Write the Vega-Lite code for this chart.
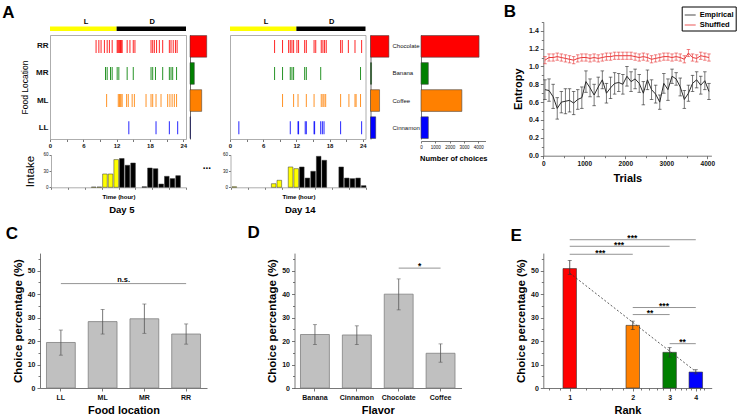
{
  "$schema": "https://vega.github.io/schema/vega-lite/v6.json",
  "width": 737,
  "height": 417,
  "autosize": {"type": "none"},
  "padding": 0,
  "background": "#ffffff",
  "config": {
    "font": "Liberation Sans",
    "view": {"stroke": null},
    "axis": {"grid": false, "domainColor": "#555555", "tickColor": "#555555", "labelColor": "#111111", "titleColor": "#000000", "domainWidth": 0.8, "tickWidth": 0.8, "labelOverlap": false, "labelFlush": false},
    "text": {"color": "#000000"}
  },
  "resolve": {
    "scale": {"x": "independent", "y": "independent", "color": "independent"},
    "axis": {"x": "independent", "y": "independent"},
    "legend": {"color": "independent"}
  },
  "layer": [
    {
      "data": {"values": [{"phase": "L", "from": 0, "to": 12, "mid": 6.5}, {"phase": "D", "from": 12, "to": 24.5, "mid": 18.4}]},
      "layer": [
        {"mark": {"type": "rect"},
         "encoding": {
           "x": {"field": "from", "type": "quantitative", "scale": {"domain": [0, 24.5], "range": [50, 186], "nice": false, "zero": false}, "axis": null},
           "x2": {"field": "to"},
           "y": {"datum": 0, "type": "quantitative", "scale": {"domain": [0, 1], "range": [31, 26.5], "nice": false}, "axis": null},
           "y2": {"datum": 1},
           "color": {"field": "phase", "type": "nominal", "scale": {"domain": ["L", "D"], "range": ["#ffff00", "#000000"]}, "legend": null}
         }},
        {"mark": {"type": "text", "fontSize": 7.5, "fontWeight": "bold", "baseline": "middle"},
         "encoding": {
           "x": {"field": "mid", "type": "quantitative", "axis": null},
           "y": {"datum": 2.1, "type": "quantitative", "axis": null},
           "text": {"field": "phase"}
         }},
        {"data": {"values": [{"panel": "A"}]},
         "mark": {"type": "text", "fontSize": 17, "fontWeight": "bold", "baseline": "middle"},
         "encoding": {
           "x": {"datum": -7.5, "type": "quantitative", "axis": null},
           "y": {"datum": 4, "type": "quantitative", "axis": null},
           "text": {"field": "panel"}
         }}
      ]
    },
    {
      "data": {"values": [{"phase": "L", "from": 0, "to": 12, "mid": 6.5}, {"phase": "D", "from": 12, "to": 24.5, "mid": 18.4}]},
      "layer": [
        {"mark": {"type": "rect"},
         "encoding": {
           "x": {"field": "from", "type": "quantitative", "scale": {"domain": [0, 24.5], "range": [230, 365.5], "nice": false, "zero": false}, "axis": null},
           "x2": {"field": "to"},
           "y": {"datum": 0, "type": "quantitative", "scale": {"domain": [0, 1], "range": [31, 26.5], "nice": false}, "axis": null},
           "y2": {"datum": 1},
           "color": {"field": "phase", "type": "nominal", "scale": {"domain": ["L", "D"], "range": ["#ffff00", "#000000"]}, "legend": null}
         }},
        {"mark": {"type": "text", "fontSize": 7.5, "fontWeight": "bold", "baseline": "middle"},
         "encoding": {
           "x": {"field": "mid", "type": "quantitative", "axis": null},
           "y": {"datum": 2.1, "type": "quantitative", "axis": null},
           "text": {"field": "phase"}
         }}
      ]
    },
    {
      "data": {"values": [
        {"loc": "RR", "h": 8.3}, {"loc": "RR", "h": 8.8}, {"loc": "RR", "h": 9.2}, {"loc": "RR", "h": 9.8}, {"loc": "RR", "h": 10.3}, {"loc": "RR", "h": 10.7}, {"loc": "RR", "h": 11.2}, {"loc": "RR", "h": 12.1}, {"loc": "RR", "h": 12.25}, {"loc": "RR", "h": 12.4}, {"loc": "RR", "h": 12.55}, {"loc": "RR", "h": 12.7}, {"loc": "RR", "h": 12.85}, {"loc": "RR", "h": 13.0}, {"loc": "RR", "h": 13.9}, {"loc": "RR", "h": 14.4}, {"loc": "RR", "h": 15.0}, {"loc": "RR", "h": 15.3}, {"loc": "RR", "h": 18.2}, {"loc": "RR", "h": 18.5}, {"loc": "RR", "h": 18.8}, {"loc": "RR", "h": 19.2}, {"loc": "RR", "h": 19.7}, {"loc": "RR", "h": 20.3}, {"loc": "RR", "h": 21.5}, {"loc": "RR", "h": 21.8}, {"loc": "RR", "h": 22.2}, {"loc": "RR", "h": 22.6}, {"loc": "RR", "h": 22.9},
        {"loc": "MR", "h": 10.0}, {"loc": "MR", "h": 10.3}, {"loc": "MR", "h": 10.9}, {"loc": "MR", "h": 11.2}, {"loc": "MR", "h": 12.1}, {"loc": "MR", "h": 12.4}, {"loc": "MR", "h": 13.9}, {"loc": "MR", "h": 15.0}, {"loc": "MR", "h": 18.2}, {"loc": "MR", "h": 18.5}, {"loc": "MR", "h": 19.0}, {"loc": "MR", "h": 20.3}, {"loc": "MR", "h": 21.5}, {"loc": "MR", "h": 21.8}, {"loc": "MR", "h": 22.1}, {"loc": "MR", "h": 22.8},
        {"loc": "ML", "h": 10.2}, {"loc": "ML", "h": 12.3}, {"loc": "ML", "h": 12.5}, {"loc": "ML", "h": 12.65}, {"loc": "ML", "h": 12.8}, {"loc": "ML", "h": 13.0}, {"loc": "ML", "h": 13.8}, {"loc": "ML", "h": 14.1}, {"loc": "ML", "h": 14.8}, {"loc": "ML", "h": 15.2}, {"loc": "ML", "h": 17.3}, {"loc": "ML", "h": 18.2}, {"loc": "ML", "h": 18.5}, {"loc": "ML", "h": 19.1}, {"loc": "ML", "h": 20.0}, {"loc": "ML", "h": 21.2}, {"loc": "ML", "h": 21.6}, {"loc": "ML", "h": 22.0}, {"loc": "ML", "h": 22.4}, {"loc": "ML", "h": 22.8},
        {"loc": "LL", "h": 14.2}, {"loc": "LL", "h": 19.1}, {"loc": "LL", "h": 21.5}, {"loc": "LL", "h": 23.0}
      ]},
      "resolve": {"axis": {"x": "independent", "y": "independent"}},
      "layer": [
        {"mark": {"type": "tick", "thickness": 1, "size": 13, "opacity": 0.85},
         "encoding": {
           "x": {"field": "h", "type": "quantitative", "scale": {"domain": [0, 24.5], "range": [50, 186], "nice": false, "zero": false},
                 "axis": {"orient": "bottom", "offset": -278, "values": [0, 3, 6, 9, 12, 15, 18, 21, 24], "labelExpr": "datum.value % 6 === 0 ? datum.label : ''", "labelFontSize": 6, "labelFontWeight": "bold", "tickSize": 2.5, "labelPadding": 1, "title": null, "domainColor": "#999999"}},
           "y": {"field": "loc", "type": "nominal", "sort": null, "scale": {"domain": ["RR", "MR", "ML", "LL"], "range": [35, 139], "paddingInner": 0.2, "paddingOuter": 0.02},
                 "axis": {"orient": "left", "offset": -50, "ticks": false, "tickSize": 0, "labelPadding": 2, "labelFontSize": 8, "labelFontWeight": "bold", "title": "Food Location", "titleFontSize": 8.5, "titleFontWeight": "normal", "titlePadding": 6, "domainColor": "#999999"}},
           "color": {"field": "loc", "type": "nominal", "scale": {"domain": ["RR", "MR", "ML", "LL"], "range": ["#ff0000", "#008000", "#ff8000", "#0000ff"]}, "legend": null}
         }},
        {"mark": {"type": "tick", "opacity": 0},
         "encoding": {
           "x": {"field": "h", "type": "quantitative", "axis": {"orient": "top", "offset": -35, "labels": false, "ticks": false, "title": null, "domainColor": "#999999"}},
           "y": {"field": "loc", "type": "nominal", "sort": null, "axis": {"orient": "right", "offset": -551, "labels": false, "ticks": false, "title": null, "domainColor": "#999999"}}
         }}
      ]
    },
    {
      "data": {"values": [{"loc": "RR", "share": 49.6}, {"loc": "MR", "share": 12.8}, {"loc": "ML", "share": 34.7}, {"loc": "LL", "share": 1.5}]},
      "mark": {"type": "bar", "stroke": "#333333", "strokeWidth": 0.5},
      "encoding": {
        "x": {"field": "share", "type": "quantitative", "scale": {"domain": [0, 60], "range": [190, 210.2], "nice": false}, "axis": null},
        "y": {"field": "loc", "type": "nominal", "sort": null, "scale": {"domain": ["RR", "MR", "ML", "LL"], "range": [35, 139], "paddingInner": 0.2, "paddingOuter": 0.02},
              "axis": {"orient": "left", "offset": -190, "labels": false, "ticks": false, "title": null, "domainColor": "#444444"}},
        "color": {"field": "loc", "type": "nominal", "scale": {"domain": ["RR", "MR", "ML", "LL"], "range": ["#ff0000", "#008000", "#ff8000", "#0000ff"]}, "legend": null}
      }
    },
    {
      "data": {"values": [
        {"loc": "RR", "h": 8.06}, {"loc": "RR", "h": 9.5}, {"loc": "RR", "h": 10.6}, {"loc": "RR", "h": 10.9}, {"loc": "RR", "h": 11.2}, {"loc": "RR", "h": 11.5}, {"loc": "RR", "h": 12.1}, {"loc": "RR", "h": 12.4}, {"loc": "RR", "h": 13.5}, {"loc": "RR", "h": 13.8}, {"loc": "RR", "h": 15.2}, {"loc": "RR", "h": 15.5}, {"loc": "RR", "h": 16.5}, {"loc": "RR", "h": 16.8}, {"loc": "RR", "h": 17.1}, {"loc": "RR", "h": 17.4}, {"loc": "RR", "h": 20.0}, {"loc": "RR", "h": 20.3}, {"loc": "RR", "h": 21.4}, {"loc": "RR", "h": 22.6}, {"loc": "RR", "h": 23.8},
        {"loc": "MR", "h": 8.06}, {"loc": "MR", "h": 9.5}, {"loc": "MR", "h": 10.9}, {"loc": "MR", "h": 11.2}, {"loc": "MR", "h": 11.5}, {"loc": "MR", "h": 13.5}, {"loc": "MR", "h": 13.8}, {"loc": "MR", "h": 16.4}, {"loc": "MR", "h": 23.6},
        {"loc": "ML", "h": 9.5}, {"loc": "ML", "h": 11.5}, {"loc": "ML", "h": 12.3}, {"loc": "ML", "h": 13.8}, {"loc": "ML", "h": 15.2}, {"loc": "ML", "h": 16.5}, {"loc": "ML", "h": 16.8}, {"loc": "ML", "h": 17.0}, {"loc": "ML", "h": 17.3}, {"loc": "ML", "h": 20.0}, {"loc": "ML", "h": 21.5}, {"loc": "ML", "h": 22.6}, {"loc": "ML", "h": 22.8}, {"loc": "ML", "h": 23.6},
        {"loc": "LL", "h": 1.6}, {"loc": "LL", "h": 10.9}, {"loc": "LL", "h": 12.3}, {"loc": "LL", "h": 12.4}, {"loc": "LL", "h": 13.6}, {"loc": "LL", "h": 13.8}, {"loc": "LL", "h": 15.2}, {"loc": "LL", "h": 15.3}, {"loc": "LL", "h": 16.4}, {"loc": "LL", "h": 16.7}, {"loc": "LL", "h": 17.0}, {"loc": "LL", "h": 20.0}, {"loc": "LL", "h": 23.8}
      ]},
      "resolve": {"axis": {"x": "independent", "y": "independent"}},
      "layer": [
        {"mark": {"type": "tick", "thickness": 1, "size": 13, "opacity": 0.85},
         "encoding": {
           "x": {"field": "h", "type": "quantitative", "scale": {"domain": [0, 24.5], "range": [230, 365.5], "nice": false, "zero": false},
                 "axis": {"orient": "bottom", "offset": -278, "values": [0, 3, 6, 9, 12, 15, 18, 21, 24], "labelExpr": "datum.value % 6 === 0 ? datum.label : ''", "labelFontSize": 6, "labelFontWeight": "bold", "tickSize": 2.5, "labelPadding": 1, "title": null, "domainColor": "#999999"}},
           "y": {"field": "loc", "type": "nominal", "sort": null, "scale": {"domain": ["RR", "MR", "ML", "LL"], "range": [35, 139], "paddingInner": 0.2, "paddingOuter": 0.02},
                 "axis": {"orient": "left", "offset": -230, "ticks": false, "labels": false, "title": null, "domainColor": "#999999"}},
           "color": {"field": "loc", "type": "nominal", "scale": {"domain": ["RR", "MR", "ML", "LL"], "range": ["#ff0000", "#008000", "#ff8000", "#0000ff"]}, "legend": null}
         }},
        {"mark": {"type": "tick", "opacity": 0},
         "encoding": {
           "x": {"field": "h", "type": "quantitative", "axis": {"orient": "top", "offset": -35, "labels": false, "ticks": false, "title": null, "domainColor": "#999999"}},
           "y": {"field": "loc", "type": "nominal", "sort": null, "axis": {"orient": "right", "offset": -371.5, "labels": false, "ticks": false, "title": null, "domainColor": "#999999"}}
         }}
      ]
    },
    {
      "data": {"values": [{"loc": "RR", "share": 54.6}, {"loc": "MR", "share": 3.1}, {"loc": "ML", "share": 26.9}, {"loc": "LL", "share": 15.4}]},
      "mark": {"type": "bar", "stroke": "#333333", "strokeWidth": 0.5},
      "encoding": {
        "x": {"field": "share", "type": "quantitative", "scale": {"domain": [0, 60], "range": [370.5, 390.7], "nice": false}, "axis": null},
        "y": {"field": "loc", "type": "nominal", "sort": null, "scale": {"domain": ["RR", "MR", "ML", "LL"], "range": [35, 139], "paddingInner": 0.2, "paddingOuter": 0.02},
              "axis": {"orient": "left", "offset": -370.5, "labels": false, "ticks": false, "title": null, "domainColor": "#444444"}},
        "color": {"field": "loc", "type": "nominal", "scale": {"domain": ["RR", "MR", "ML", "LL"], "range": ["#ff0000", "#008000", "#ff8000", "#0000ff"]}, "legend": null}
      }
    },
    {
      "data": {"values": [{"flavor": "Chocolate", "n": 4050}, {"flavor": "Banana", "n": 510}, {"flavor": "Coffee", "n": 2850}, {"flavor": "Cinnamon", "n": 510}]},
      "mark": {"type": "bar", "stroke": "#444444", "strokeWidth": 0.6},
      "encoding": {
        "x": {"field": "n", "type": "quantitative", "scale": {"domain": [0, 4500], "range": [421, 485.5], "nice": false},
              "axis": {"orient": "bottom", "offset": -276, "values": [0, 1000, 2000, 3000, 4000], "format": "d", "labelFontSize": 4.5, "tickSize": 2, "labelPadding": 1.5, "title": "Number of choices", "titleFontSize": 7.5, "titleFontWeight": "bold", "titlePadding": 5}},
        "y": {"field": "flavor", "type": "nominal", "sort": null, "scale": {"domain": ["Chocolate", "Banana", "Coffee", "Cinnamon"], "range": [35, 139], "paddingInner": 0.2, "paddingOuter": 0.02},
              "axis": {"orient": "left", "offset": -421, "ticks": false, "tickSize": 0, "labelAlign": "left", "labelPadding": 29, "labelFontSize": 6, "title": null}},
        "color": {"field": "flavor", "type": "nominal", "scale": {"domain": ["Chocolate", "Banana", "Coffee", "Cinnamon"], "range": ["#ff0000", "#008000", "#ff8000", "#0000ff"]}, "legend": null}
      }
    },
    {
      "data": {"values": [
        {"h0": 7, "h1": 8, "phase": "L", "intake": 0.5}, {"h0": 8, "h1": 9, "phase": "L", "intake": 0.6}, {"h0": 9, "h1": 10, "phase": "L", "intake": 24.5}, {"h0": 10, "h1": 11, "phase": "L", "intake": 24.5}, {"h0": 11, "h1": 12, "phase": "L", "intake": 51},
        {"h0": 12, "h1": 13, "phase": "D", "intake": 53}, {"h0": 13, "h1": 14, "phase": "D", "intake": 40.5}, {"h0": 14, "h1": 15, "phase": "D", "intake": 44.7}, {"h0": 16, "h1": 17, "phase": "D", "intake": 1}, {"h0": 17, "h1": 18, "phase": "D", "intake": 35.5}, {"h0": 18, "h1": 19, "phase": "D", "intake": 34.2}, {"h0": 19, "h1": 20, "phase": "D", "intake": 6}, {"h0": 20, "h1": 21, "phase": "D", "intake": 20.2}, {"h0": 21, "h1": 22, "phase": "D", "intake": 16}, {"h0": 22, "h1": 23, "phase": "D", "intake": 21.4}
      ]},
      "resolve": {"axis": {"x": "independent", "y": "independent"}},
      "layer": [
        {"mark": {"type": "bar", "stroke": "#333333", "strokeWidth": 0.5, "binSpacing": 1},
         "encoding": {
           "x": {"field": "h0", "type": "quantitative", "bin": "binned", "scale": {"domain": [0, 24], "range": [51, 186], "nice": false, "zero": false},
                 "axis": {"orient": "bottom", "offset": -229.7, "values": [0, 3, 6, 9, 12, 15, 18, 21, 24], "labels": false, "tickSize": 2, "title": "Time (hour)", "titleFontSize": 6, "titleFontWeight": "bold", "titlePadding": 4, "domainColor": "#999999"}},
           "x2": {"field": "h1"},
           "y": {"field": "intake", "type": "quantitative", "scale": {"domain": [0, 60], "range": [187.3, 154.7], "nice": false},
                 "axis": {"orient": "left", "offset": -51, "values": [0, 30, 60], "labelFontSize": 4.5, "tickSize": 2, "labelPadding": 1, "title": "Intake", "titleFontSize": 11.5, "titleFontWeight": "normal", "titlePadding": 7, "domainColor": "#999999"}},
           "color": {"field": "phase", "type": "nominal", "scale": {"domain": ["L", "D"], "range": ["#ffff00", "#000000"]}, "legend": null}
         }},
        {"data": {"values": [{"label": "Day 5"}]},
         "mark": {"type": "text", "fontSize": 9.5, "fontWeight": "bold", "baseline": "middle"},
         "encoding": {"x": {"datum": 12.6, "type": "quantitative", "axis": null}, "y": {"datum": -41.8, "type": "quantitative", "axis": null}, "text": {"field": "label"}}},
        {"data": {"values": [{"label": "..."}]},
         "mark": {"type": "text", "fontSize": 10, "fontWeight": "bold", "baseline": "alphabetic"},
         "encoding": {"x": {"datum": 27.7, "type": "quantitative", "axis": null}, "y": {"datum": 33.7, "type": "quantitative", "axis": null}, "text": {"field": "label"}}}
      ]
    },
    {
      "data": {"values": [
        {"h0": 0, "h1": 1, "phase": "L", "intake": 1}, {"h0": 7, "h1": 8, "phase": "L", "intake": 6.6}, {"h0": 8, "h1": 9, "phase": "L", "intake": 12.9}, {"h0": 10, "h1": 11, "phase": "L", "intake": 37.4}, {"h0": 11, "h1": 12, "phase": "L", "intake": 34.3},
        {"h0": 12, "h1": 13, "phase": "D", "intake": 37.4}, {"h0": 13, "h1": 14, "phase": "D", "intake": 17}, {"h0": 14, "h1": 15, "phase": "D", "intake": 29.4}, {"h0": 15, "h1": 16, "phase": "D", "intake": 57}, {"h0": 16, "h1": 17, "phase": "D", "intake": 49.7}, {"h0": 19, "h1": 20, "phase": "D", "intake": 37.4}, {"h0": 20, "h1": 21, "phase": "D", "intake": 17}, {"h0": 21, "h1": 22, "phase": "D", "intake": 15.9}, {"h0": 22, "h1": 23, "phase": "D", "intake": 17}, {"h0": 23, "h1": 24, "phase": "D", "intake": 3}
      ]},
      "resolve": {"axis": {"x": "independent", "y": "independent"}},
      "layer": [
        {"mark": {"type": "bar", "stroke": "#333333", "strokeWidth": 0.5, "binSpacing": 1},
         "encoding": {
           "x": {"field": "h0", "type": "quantitative", "bin": "binned", "scale": {"domain": [0, 24], "range": [231, 366], "nice": false, "zero": false},
                 "axis": {"orient": "bottom", "offset": -229.7, "values": [0, 3, 6, 9, 12, 15, 18, 21, 24], "labels": false, "tickSize": 2, "title": "Time (hour)", "titleFontSize": 6, "titleFontWeight": "bold", "titlePadding": 4, "domainColor": "#999999"}},
           "x2": {"field": "h1"},
           "y": {"field": "intake", "type": "quantitative", "scale": {"domain": [0, 60], "range": [187.3, 154.7], "nice": false},
                 "axis": {"orient": "left", "offset": -230.5, "values": [0, 30, 60], "labelFontSize": 4.5, "tickSize": 2, "labelPadding": 1, "title": null, "domainColor": "#999999"}},
           "color": {"field": "phase", "type": "nominal", "scale": {"domain": ["L", "D"], "range": ["#ffff00", "#000000"]}, "legend": null}
         }},
        {"data": {"values": [{"label": "Day 14"}]},
         "mark": {"type": "text", "fontSize": 9.5, "fontWeight": "bold", "baseline": "middle"},
         "encoding": {"x": {"datum": 12.3, "type": "quantitative", "axis": null}, "y": {"datum": -41.8, "type": "quantitative", "axis": null}, "text": {"field": "label"}}}
      ]
    },
    {
      "data": {"values": [
        {"series": "Empirical", "trial": 40, "mean": 0.74, "lo": 0.63, "hi": 0.85},
        {"series": "Empirical", "trial": 140, "mean": 0.73, "lo": 0.61, "hi": 0.86},
        {"series": "Empirical", "trial": 240, "mean": 0.66, "lo": 0.53, "hi": 0.80},
        {"series": "Empirical", "trial": 340, "mean": 0.53, "lo": 0.41, "hi": 0.65},
        {"series": "Empirical", "trial": 440, "mean": 0.60, "lo": 0.48, "hi": 0.72},
        {"series": "Empirical", "trial": 540, "mean": 0.61, "lo": 0.47, "hi": 0.75},
        {"series": "Empirical", "trial": 640, "mean": 0.62, "lo": 0.49, "hi": 0.75},
        {"series": "Empirical", "trial": 740, "mean": 0.59, "lo": 0.46, "hi": 0.72},
        {"series": "Empirical", "trial": 840, "mean": 0.63, "lo": 0.52, "hi": 0.74},
        {"series": "Empirical", "trial": 940, "mean": 0.65, "lo": 0.53, "hi": 0.77},
        {"series": "Empirical", "trial": 1040, "mean": 0.83, "lo": 0.71, "hi": 0.95},
        {"series": "Empirical", "trial": 1140, "mean": 0.76, "lo": 0.66, "hi": 0.86},
        {"series": "Empirical", "trial": 1240, "mean": 0.68, "lo": 0.56, "hi": 0.80},
        {"series": "Empirical", "trial": 1340, "mean": 0.77, "lo": 0.66, "hi": 0.88},
        {"series": "Empirical", "trial": 1440, "mean": 0.85, "lo": 0.75, "hi": 0.95},
        {"series": "Empirical", "trial": 1540, "mean": 0.70, "lo": 0.59, "hi": 0.81},
        {"series": "Empirical", "trial": 1640, "mean": 0.76, "lo": 0.64, "hi": 0.88},
        {"series": "Empirical", "trial": 1740, "mean": 0.81, "lo": 0.69, "hi": 0.93},
        {"series": "Empirical", "trial": 1840, "mean": 0.82, "lo": 0.72, "hi": 0.92},
        {"series": "Empirical", "trial": 1940, "mean": 0.80, "lo": 0.69, "hi": 0.91},
        {"series": "Empirical", "trial": 2040, "mean": 0.89, "lo": 0.78, "hi": 1.00},
        {"series": "Empirical", "trial": 2140, "mean": 0.83, "lo": 0.72, "hi": 0.94},
        {"series": "Empirical", "trial": 2240, "mean": 0.86, "lo": 0.75, "hi": 0.97},
        {"series": "Empirical", "trial": 2340, "mean": 0.81, "lo": 0.71, "hi": 0.91},
        {"series": "Empirical", "trial": 2440, "mean": 0.70, "lo": 0.57, "hi": 0.83},
        {"series": "Empirical", "trial": 2540, "mean": 0.85, "lo": 0.74, "hi": 0.96},
        {"series": "Empirical", "trial": 2640, "mean": 0.74, "lo": 0.63, "hi": 0.85},
        {"series": "Empirical", "trial": 2740, "mean": 0.69, "lo": 0.59, "hi": 0.79},
        {"series": "Empirical", "trial": 2840, "mean": 0.60, "lo": 0.52, "hi": 0.68},
        {"series": "Empirical", "trial": 2940, "mean": 0.81, "lo": 0.70, "hi": 0.92},
        {"series": "Empirical", "trial": 3040, "mean": 0.74, "lo": 0.62, "hi": 0.86},
        {"series": "Empirical", "trial": 3140, "mean": 0.89, "lo": 0.81, "hi": 0.97},
        {"series": "Empirical", "trial": 3240, "mean": 0.86, "lo": 0.79, "hi": 0.93},
        {"series": "Empirical", "trial": 3340, "mean": 0.77, "lo": 0.67, "hi": 0.87},
        {"series": "Empirical", "trial": 3440, "mean": 0.63, "lo": 0.53, "hi": 0.73},
        {"series": "Empirical", "trial": 3540, "mean": 0.70, "lo": 0.61, "hi": 0.79},
        {"series": "Empirical", "trial": 3640, "mean": 0.81, "lo": 0.72, "hi": 0.90},
        {"series": "Empirical", "trial": 3740, "mean": 0.85, "lo": 0.76, "hi": 0.94},
        {"series": "Empirical", "trial": 3840, "mean": 0.79, "lo": 0.69, "hi": 0.89},
        {"series": "Empirical", "trial": 3940, "mean": 0.84, "lo": 0.74, "hi": 0.94},
        {"series": "Empirical", "trial": 4040, "mean": 0.72, "lo": 0.63, "hi": 0.81},
        {"series": "Shuffled", "trial": 40, "mean": 1.07, "lo": 1.03, "hi": 1.11},
        {"series": "Shuffled", "trial": 140, "mean": 1.10, "lo": 1.06, "hi": 1.14},
        {"series": "Shuffled", "trial": 240, "mean": 1.10, "lo": 1.06, "hi": 1.14},
        {"series": "Shuffled", "trial": 340, "mean": 1.11, "lo": 1.07, "hi": 1.15},
        {"series": "Shuffled", "trial": 440, "mean": 1.10, "lo": 1.06, "hi": 1.14},
        {"series": "Shuffled", "trial": 540, "mean": 1.09, "lo": 1.05, "hi": 1.13},
        {"series": "Shuffled", "trial": 640, "mean": 1.08, "lo": 1.04, "hi": 1.12},
        {"series": "Shuffled", "trial": 740, "mean": 1.07, "lo": 1.03, "hi": 1.11},
        {"series": "Shuffled", "trial": 840, "mean": 1.09, "lo": 1.05, "hi": 1.13},
        {"series": "Shuffled", "trial": 940, "mean": 1.10, "lo": 1.06, "hi": 1.14},
        {"series": "Shuffled", "trial": 1040, "mean": 1.10, "lo": 1.06, "hi": 1.14},
        {"series": "Shuffled", "trial": 1140, "mean": 1.09, "lo": 1.05, "hi": 1.13},
        {"series": "Shuffled", "trial": 1240, "mean": 1.10, "lo": 1.06, "hi": 1.14},
        {"series": "Shuffled", "trial": 1340, "mean": 1.09, "lo": 1.05, "hi": 1.13},
        {"series": "Shuffled", "trial": 1440, "mean": 1.10, "lo": 1.06, "hi": 1.14},
        {"series": "Shuffled", "trial": 1540, "mean": 1.11, "lo": 1.07, "hi": 1.15},
        {"series": "Shuffled", "trial": 1640, "mean": 1.11, "lo": 1.07, "hi": 1.15},
        {"series": "Shuffled", "trial": 1740, "mean": 1.12, "lo": 1.08, "hi": 1.16},
        {"series": "Shuffled", "trial": 1840, "mean": 1.12, "lo": 1.08, "hi": 1.16},
        {"series": "Shuffled", "trial": 1940, "mean": 1.12, "lo": 1.08, "hi": 1.16},
        {"series": "Shuffled", "trial": 2040, "mean": 1.12, "lo": 1.08, "hi": 1.16},
        {"series": "Shuffled", "trial": 2140, "mean": 1.12, "lo": 1.08, "hi": 1.16},
        {"series": "Shuffled", "trial": 2240, "mean": 1.11, "lo": 1.07, "hi": 1.15},
        {"series": "Shuffled", "trial": 2340, "mean": 1.10, "lo": 1.06, "hi": 1.14},
        {"series": "Shuffled", "trial": 2440, "mean": 1.11, "lo": 1.07, "hi": 1.15},
        {"series": "Shuffled", "trial": 2540, "mean": 1.10, "lo": 1.06, "hi": 1.14},
        {"series": "Shuffled", "trial": 2640, "mean": 1.08, "lo": 1.04, "hi": 1.12},
        {"series": "Shuffled", "trial": 2740, "mean": 1.09, "lo": 1.05, "hi": 1.13},
        {"series": "Shuffled", "trial": 2840, "mean": 1.10, "lo": 1.06, "hi": 1.14},
        {"series": "Shuffled", "trial": 2940, "mean": 1.11, "lo": 1.07, "hi": 1.15},
        {"series": "Shuffled", "trial": 3040, "mean": 1.11, "lo": 1.07, "hi": 1.15},
        {"series": "Shuffled", "trial": 3140, "mean": 1.10, "lo": 1.06, "hi": 1.14},
        {"series": "Shuffled", "trial": 3240, "mean": 1.11, "lo": 1.07, "hi": 1.15},
        {"series": "Shuffled", "trial": 3340, "mean": 1.10, "lo": 1.06, "hi": 1.14},
        {"series": "Shuffled", "trial": 3440, "mean": 1.08, "lo": 1.04, "hi": 1.12},
        {"series": "Shuffled", "trial": 3540, "mean": 1.15, "lo": 1.11, "hi": 1.19},
        {"series": "Shuffled", "trial": 3640, "mean": 1.10, "lo": 1.06, "hi": 1.14},
        {"series": "Shuffled", "trial": 3740, "mean": 1.09, "lo": 1.05, "hi": 1.13},
        {"series": "Shuffled", "trial": 3840, "mean": 1.12, "lo": 1.08, "hi": 1.16},
        {"series": "Shuffled", "trial": 3940, "mean": 1.11, "lo": 1.07, "hi": 1.15},
        {"series": "Shuffled", "trial": 4040, "mean": 1.10, "lo": 1.06, "hi": 1.14}
      ]},
      "resolve": {"axis": {"x": "independent", "y": "independent"}},
      "layer": [
        {"mark": {"type": "line", "strokeWidth": 1},
         "encoding": {
           "x": {"field": "trial", "type": "quantitative", "scale": {"domain": [0, 4100], "range": [543.3, 711.4], "nice": false, "zero": false},
                 "axis": {"orient": "bottom", "offset": -261.3, "values": [0, 1000, 2000, 3000, 4000], "format": "d", "labelFontSize": 6.5, "labelFontWeight": "bold", "tickSize": 3, "labelPadding": 2, "title": "Trials", "titleFontSize": 11, "titleFontWeight": "bold", "titlePadding": 5}},
           "y": {"field": "mean", "type": "quantitative", "scale": {"domain": [0, 1.5], "range": [155.7, 21.8], "nice": false},
                 "axis": {"orient": "left", "offset": -543.3, "values": [0, 0.2, 0.4, 0.6, 0.8, 1.0, 1.2, 1.4], "format": ".1f", "labelFontSize": 7, "labelFontWeight": "bold", "tickSize": 3, "labelPadding": 2, "title": "Entropy", "titleFontSize": 11, "titleFontWeight": "bold", "titlePadding": 5}},
           "color": {"field": "series", "type": "nominal", "scale": {"domain": ["Empirical", "Shuffled"], "range": ["#2b2b2b", "#e8393a"]},
                     "legend": {"orient": "none", "legendX": 681.7, "legendY": 6.5, "title": null, "strokeColor": "#000000", "fillColor": "#ffffff", "padding": 2, "labelFontSize": 7.5, "labelFontWeight": "bold", "symbolType": "stroke", "symbolSize": 120, "symbolStrokeWidth": 1.2, "rowPadding": 0, "labelOffset": 3}}
         }},
        {"mark": {"type": "rule", "strokeWidth": 0.9, "opacity": 0.7},
         "encoding": {
           "x": {"field": "trial", "type": "quantitative", "axis": {"orient": "bottom", "offset": -261.3, "values": [500, 1500, 2500, 3500], "labels": false, "tickSize": 2, "domain": false, "title": null}},
           "y": {"field": "lo", "type": "quantitative", "axis": {"orient": "left", "offset": -543.3, "values": [0.1, 0.3, 0.5, 0.7, 0.9, 1.1, 1.3, 1.5], "labels": false, "tickSize": 2, "domain": false, "title": null}},
           "y2": {"field": "hi"},
           "color": {"field": "series", "type": "nominal"}
         }},
        {"mark": {"type": "tick", "orient": "horizontal", "size": 3.5, "thickness": 0.9, "opacity": 0.7},
         "encoding": {
           "x": {"field": "trial", "type": "quantitative", "axis": null},
           "y": {"field": "lo", "type": "quantitative", "axis": null},
           "color": {"field": "series", "type": "nominal"}
         }},
        {"mark": {"type": "tick", "orient": "horizontal", "size": 3.5, "thickness": 0.9, "opacity": 0.7},
         "encoding": {
           "x": {"field": "trial", "type": "quantitative", "axis": null},
           "y": {"field": "hi", "type": "quantitative", "axis": null},
           "color": {"field": "series", "type": "nominal"}
         }},
        {"data": {"values": [{"panel": "B"}]},
         "mark": {"type": "text", "fontSize": 17, "fontWeight": "bold", "baseline": "middle"},
         "encoding": {"x": {"datum": -812, "type": "quantitative", "axis": null}, "y": {"datum": 1.61, "type": "quantitative", "axis": null}, "text": {"field": "panel"}}}
      ]
    },
    {
      "data": {"values": [
        {"loc": "LL", "pct": 19.4, "lo": 14.0, "hi": 24.7},
        {"loc": "ML", "pct": 28.3, "lo": 23.0, "hi": 33.5},
        {"loc": "MR", "pct": 29.5, "lo": 23.3, "hi": 35.8},
        {"loc": "RR", "pct": 23.0, "lo": 18.7, "hi": 27.3}
      ]},
      "resolve": {"axis": {"x": "independent", "y": "independent"}},
      "layer": [
        {"mark": {"type": "bar", "fill": "#c0c0c0", "stroke": "#808080", "strokeWidth": 0.8},
         "encoding": {
           "x": {"field": "loc", "type": "nominal", "sort": null, "scale": {"domain": ["LL", "ML", "MR", "RR"], "range": [40, 207], "paddingInner": 0.31, "paddingOuter": 0.155},
                 "axis": {"orient": "bottom", "offset": -29, "labelAngle": 0, "labelFontSize": 7, "labelFontWeight": "bold", "tickSize": 3, "labelPadding": 2, "title": "Food location", "titleFontSize": 11, "titleFontWeight": "bold", "titlePadding": 4}},
           "y": {"field": "pct", "type": "quantitative", "scale": {"domain": [0, 57.5], "range": [388, 253.1], "nice": false},
                 "axis": {"orient": "left", "offset": -40, "values": [0, 10, 20, 30, 40, 50], "labelFontSize": 7, "labelFontWeight": "bold", "tickSize": 3, "labelPadding": 2, "title": "Choice percentage (%)", "titleFontSize": 11.5, "titleFontWeight": "bold", "titlePadding": 4}}
         }},
        {"mark": {"type": "rule", "color": "#555555", "strokeWidth": 0.8},
         "encoding": {
           "x": {"field": "loc", "type": "nominal", "sort": null, "axis": null},
           "y": {"field": "lo", "type": "quantitative", "axis": {"orient": "left", "offset": -40, "values": [5, 15, 25, 35, 45, 55], "labels": false, "tickSize": 2, "domain": false, "title": null}},
           "y2": {"field": "hi"}
         }},
        {"mark": {"type": "tick", "orient": "horizontal", "size": 4, "thickness": 0.8, "color": "#555555"},
         "encoding": {"x": {"field": "loc", "type": "nominal", "sort": null, "axis": null}, "y": {"field": "lo", "type": "quantitative", "axis": null}}},
        {"mark": {"type": "tick", "orient": "horizontal", "size": 4, "thickness": 0.8, "color": "#555555"},
         "encoding": {"x": {"field": "loc", "type": "nominal", "sort": null, "axis": null}, "y": {"field": "hi", "type": "quantitative", "axis": null}}},
        {"data": {"values": [{"a": "LL", "b": "RR", "level": 44.5, "sig": "n.s."}]},
         "layer": [
           {"mark": {"type": "rule", "color": "#777777", "strokeWidth": 0.8},
            "encoding": {"x": {"field": "a", "type": "nominal", "axis": null}, "x2": {"field": "b"}, "y": {"field": "level", "type": "quantitative", "axis": null}}},
           {"mark": {"type": "text", "fontSize": 7.5, "fontWeight": "bold", "baseline": "alphabetic", "dx": 21, "dy": -1.5},
            "encoding": {"x": {"datum": "ML", "type": "nominal", "axis": null}, "y": {"field": "level", "type": "quantitative", "axis": null}, "text": {"field": "sig"}}}
         ]},
        {"data": {"values": [{"panel": "C"}]},
         "mark": {"type": "text", "fontSize": 17, "fontWeight": "bold", "baseline": "middle", "dx": -49},
         "encoding": {"x": {"datum": "LL", "type": "nominal", "axis": null}, "y": {"datum": 65.8, "type": "quantitative", "axis": null}, "text": {"field": "panel"}}}
      ]
    },
    {
      "data": {"values": [
        {"flavor": "Banana", "pct": 22.8, "lo": 18.5, "hi": 27.0},
        {"flavor": "Cinnamon", "pct": 22.6, "lo": 18.5, "hi": 26.5},
        {"flavor": "Chocolate", "pct": 40.0, "lo": 33.3, "hi": 46.5},
        {"flavor": "Coffee", "pct": 14.8, "lo": 11.0, "hi": 18.8}
      ]},
      "resolve": {"axis": {"x": "independent", "y": "independent"}},
      "layer": [
        {"mark": {"type": "bar", "fill": "#c0c0c0", "stroke": "#808080", "strokeWidth": 0.8},
         "encoding": {
           "x": {"field": "flavor", "type": "nominal", "sort": null, "scale": {"domain": ["Banana", "Cinnamon", "Chocolate", "Coffee"], "range": [294, 461.5], "paddingInner": 0.31, "paddingOuter": 0.155},
                 "axis": {"orient": "bottom", "offset": -29, "labelAngle": 0, "labelFontSize": 7, "labelFontWeight": "bold", "tickSize": 3, "labelPadding": 2, "title": "Flavor", "titleFontSize": 11, "titleFontWeight": "bold", "titlePadding": 4}},
           "y": {"field": "pct", "type": "quantitative", "scale": {"domain": [0, 57.5], "range": [388, 253.1], "nice": false},
                 "axis": {"orient": "left", "offset": -294.5, "values": [0, 10, 20, 30, 40, 50], "labelFontSize": 7, "labelFontWeight": "bold", "tickSize": 3, "labelPadding": 2, "title": "Choice percentage (%)", "titleFontSize": 11.5, "titleFontWeight": "bold", "titlePadding": 4}}
         }},
        {"mark": {"type": "rule", "color": "#555555", "strokeWidth": 0.8},
         "encoding": {
           "x": {"field": "flavor", "type": "nominal", "sort": null, "axis": null},
           "y": {"field": "lo", "type": "quantitative", "axis": {"orient": "left", "offset": -294.5, "values": [5, 15, 25, 35, 45, 55], "labels": false, "tickSize": 2, "domain": false, "title": null}},
           "y2": {"field": "hi"}
         }},
        {"mark": {"type": "tick", "orient": "horizontal", "size": 4, "thickness": 0.8, "color": "#555555"},
         "encoding": {"x": {"field": "flavor", "type": "nominal", "sort": null, "axis": null}, "y": {"field": "lo", "type": "quantitative", "axis": null}}},
        {"mark": {"type": "tick", "orient": "horizontal", "size": 4, "thickness": 0.8, "color": "#555555"},
         "encoding": {"x": {"field": "flavor", "type": "nominal", "sort": null, "axis": null}, "y": {"field": "hi", "type": "quantitative", "axis": null}}},
        {"data": {"values": [{"a": "Chocolate", "b": "Coffee", "level": 51.1, "sig": "*"}]},
         "layer": [
           {"mark": {"type": "rule", "color": "#777777", "strokeWidth": 0.8},
            "encoding": {"x": {"field": "a", "type": "nominal", "axis": null}, "x2": {"field": "b"}, "y": {"field": "level", "type": "quantitative", "axis": null}}},
           {"mark": {"type": "text", "fontSize": 8.5, "fontWeight": "bold", "baseline": "alphabetic", "dx": 21, "dy": 1},
            "encoding": {"x": {"field": "a", "type": "nominal", "axis": null}, "y": {"field": "level", "type": "quantitative", "axis": null}, "text": {"field": "sig"}}}
         ]},
        {"data": {"values": [{"panel": "D"}]},
         "mark": {"type": "text", "fontSize": 17, "fontWeight": "bold", "baseline": "middle", "dx": -61.4},
         "encoding": {"x": {"datum": "Banana", "type": "nominal", "axis": null}, "y": {"datum": 66, "type": "quantitative", "axis": null}, "text": {"field": "panel"}}}
      ]
    },
    {
      "data": {"values": [
        {"rank": 1, "pct": 50.9, "lo": 48.4, "hi": 54.4},
        {"rank": 2, "pct": 26.7, "lo": 24.9, "hi": 28.5},
        {"rank": 3, "pct": 15.2, "lo": 13.2, "hi": 17.2},
        {"rank": 4, "pct": 6.8, "lo": 6.0, "hi": 7.8}
      ]},
      "resolve": {"axis": {"x": "independent", "y": "independent"}},
      "layer": [
        {"mark": {"type": "bar", "orient": "vertical", "size": 13.5, "stroke": "#333333", "strokeWidth": 0.6},
         "encoding": {
           "x": {"field": "rank", "type": "quantitative", "scale": {"type": "log", "domain": [0.79, 4.51], "range": [543.3, 711.7], "nice": false},
                 "axis": {"orient": "bottom", "offset": -29, "values": [1, 2, 3, 4], "format": "d", "labelFontSize": 7, "labelFontWeight": "bold", "tickSize": 3, "labelPadding": 2, "title": "Rank", "titleFontSize": 11, "titleFontWeight": "bold", "titlePadding": 4}},
           "y": {"field": "pct", "type": "quantitative", "scale": {"domain": [0, 57.5], "range": [388, 253.1], "nice": false},
                 "axis": {"orient": "left", "offset": -543.3, "values": [0, 10, 20, 30, 40, 50], "labelFontSize": 7, "labelFontWeight": "bold", "tickSize": 3, "labelPadding": 2, "title": "Choice percentage (%)", "titleFontSize": 11.5, "titleFontWeight": "bold", "titlePadding": 4}},
           "y2": {"datum": 0},
           "color": {"field": "rank", "type": "nominal", "scale": {"domain": [1, 2, 3, 4], "range": ["#ff0000", "#ff8000", "#008000", "#0000ff"]}, "legend": null}
         }},
        {"mark": {"type": "rule", "color": "#333333", "strokeWidth": 0.8},
         "encoding": {
           "x": {"field": "rank", "type": "quantitative", "axis": {"orient": "bottom", "offset": -29, "values": [0.8, 0.9, 1.2, 1.4, 1.6, 1.8, 2.2, 2.4, 2.6, 2.8, 3.2, 3.4, 3.6, 3.8, 4.2, 4.4], "labels": false, "tickSize": 2, "domain": false, "title": null}},
           "y": {"field": "lo", "type": "quantitative", "axis": {"orient": "left", "offset": -543.3, "values": [5, 15, 25, 35, 45, 55], "labels": false, "tickSize": 2, "domain": false, "title": null}},
           "y2": {"field": "hi"}
         }},
        {"mark": {"type": "tick", "orient": "horizontal", "size": 4, "thickness": 0.8, "color": "#333333"},
         "encoding": {"x": {"field": "rank", "type": "quantitative", "axis": null}, "y": {"field": "lo", "type": "quantitative", "axis": null}}},
        {"mark": {"type": "tick", "orient": "horizontal", "size": 4, "thickness": 0.8, "color": "#333333"},
         "encoding": {"x": {"field": "rank", "type": "quantitative", "axis": null}, "y": {"field": "hi", "type": "quantitative", "axis": null}}},
        {"data": {"values": [{"rank": 1, "fit": 49}, {"rank": 4, "fit": 7}]},
         "mark": {"type": "line", "strokeDash": [2, 2], "strokeWidth": 0.8, "color": "#333333"},
         "encoding": {"x": {"field": "rank", "type": "quantitative", "axis": null}, "y": {"field": "fit", "type": "quantitative", "axis": null}}},
        {"data": {"values": [
           {"from": 1, "to": 2, "level": 57.0, "mid": 1.40, "sig": "***"},
           {"from": 1, "to": 3, "level": 60.4, "mid": 1.72, "sig": "***"},
           {"from": 1, "to": 4, "level": 63.2, "mid": 1.99, "sig": "***"},
           {"from": 2, "to": 4, "level": 34.3, "mid": 2.82, "sig": "***"},
           {"from": 2, "to": 3, "level": 31.3, "mid": 2.42, "sig": "**"},
           {"from": 3, "to": 4, "level": 18.9, "mid": 3.46, "sig": "**"}
         ]},
         "layer": [
           {"mark": {"type": "rule", "color": "#777777", "strokeWidth": 0.8},
            "encoding": {"x": {"field": "from", "type": "quantitative", "axis": null}, "x2": {"field": "to"}, "y": {"field": "level", "type": "quantitative", "axis": null}}},
           {"mark": {"type": "text", "fontSize": 8.5, "fontWeight": "bold", "baseline": "alphabetic", "dy": 1.5},
            "encoding": {"x": {"field": "mid", "type": "quantitative", "axis": null}, "y": {"field": "level", "type": "quantitative", "axis": null}, "text": {"field": "sig"}}}
         ]},
        {"data": {"values": [{"panel": "E"}]},
         "mark": {"type": "text", "fontSize": 17, "fontWeight": "bold", "baseline": "middle"},
         "encoding": {"x": {"datum": 0.555, "type": "quantitative", "axis": null}, "y": {"datum": 65, "type": "quantitative", "axis": null}, "text": {"field": "panel"}}}
      ]
    }
  ]
}
